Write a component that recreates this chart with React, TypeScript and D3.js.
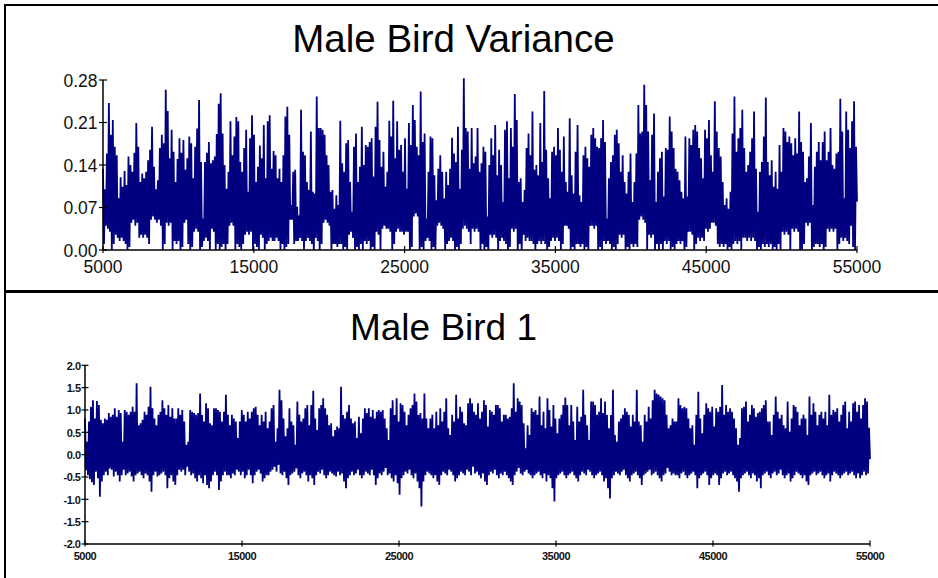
import React from "react";
import * as d3 from "d3";

// x range shared by both panels (sample number)
const sampleRange = [5000, 55000];
const timeTicks = [5000, 15000, 25000, 35000, 45000, 55000];
const varianceTicks = [0, 0.07, 0.14, 0.21, 0.28];
const birdTicks = [-2, -1.5, -1, -0.5, 0, 0.5, 1, 1.5, 2];

// Male Bird Variance: upper envelope (peaks), left to right
const varianceHighs = [
  // 5000 - 17400
  0.134, 0.10, 0.159, 0.242, 0.19, 0.214, 0.17, 0.156, 0.085, 0.12,
  0.104, 0.13, 0.107, 0.154, 0.14, 0.129, 0.16, 0.209, 0.170, 0.112,
  0.126, 0.118, 0.129, 0.148, 0.165, 0.203, 0.137, 0.10, 0.115, 0.168,
  0.190, 0.176, 0.264, 0.229, 0.151, 0.198, 0.162, 0.112, 0.15, 0.184,
  0.16, 0.181, 0.132, 0.151, 0.187, 0.176, 0.118, 0.170, 0.20, 0.247,
  0.145, 0.052, 0.145, 0.16, 0.178, 0.143, 0.148, 0.154, 0.191, 0.241,
  0.258, 0.192, 0.140, 0.101, 0.129, 0.212, 0.156, 0.187, 0.219, 0.212,
  0.145, 0.129, 0.168, 0.198, 0.096, 0.184, 0.222, 0.190, 0.112, 0.137,
  0.172, 0.151, 0.206, 0.118, 0.212, 0.222, 0.134, 0.163, 0.156, 0.118,
  0.134, 0.112, 0.156, 0.220,
  // 17400 - 30000
  0.236, 0.190, 0.074, 0.129, 0.132, 0.071, 0.057, 0.231, 0.162, 0.156,
  0.112, 0.099, 0.195, 0.096, 0.093, 0.253, 0.201, 0.201, 0.198, 0.190,
  0.156, 0.140, 0.096, 0.099, 0.068, 0.090, 0.074, 0.213, 0.143, 0.129,
  0.176, 0.181, 0.112, 0.063, 0.170, 0.192, 0.112, 0.137, 0.203, 0.140,
  0.173, 0.170, 0.178, 0.184, 0.121, 0.203, 0.244, 0.181, 0.137, 0.162,
  0.104, 0.129, 0.213, 0.187, 0.246, 0.151, 0.212, 0.165, 0.173, 0.129,
  0.184, 0.101, 0.209, 0.173, 0.239, 0.214, 0.170, 0.156, 0.261, 0.178,
  0.192, 0.052, 0.129, 0.187, 0.184, 0.123, 0.082, 0.134, 0.156, 0.129,
  0.085, 0.129, 0.107, 0.134, 0.185, 0.159, 0.145, 0.203, 0.101, 0.165,
  0.283, 0.201, 0.195, 0.134,
  // 30000 - 42600
  0.201, 0.143, 0.154, 0.201, 0.129, 0.143, 0.170, 0.162, 0.055, 0.140,
  0.184, 0.156, 0.206, 0.123, 0.165, 0.140, 0.079, 0.198, 0.212, 0.118,
  0.201, 0.170, 0.257, 0.214, 0.112, 0.118, 0.079, 0.099, 0.168, 0.192,
  0.156, 0.228, 0.132, 0.140, 0.123, 0.209, 0.145, 0.262, 0.165, 0.118,
  0.085, 0.162, 0.170, 0.156, 0.201, 0.165, 0.129, 0.187, 0.112, 0.096,
  0.217, 0.123, 0.093, 0.162, 0.206, 0.090, 0.079, 0.156, 0.170, 0.151,
  0.137, 0.190, 0.201, 0.184, 0.170, 0.168, 0.184, 0.214, 0.178, 0.052,
  0.118, 0.145, 0.156, 0.190, 0.198, 0.176, 0.129, 0.156, 0.112, 0.093,
  0.129, 0.159, 0.079, 0.112, 0.159, 0.239, 0.192, 0.195, 0.272, 0.239,
  0.195, 0.115, 0.190, 0.225, 0.079, 0.129, 0.151, 0.162,
  // 42600 - 55000
  0.088, 0.168, 0.165, 0.220, 0.195, 0.168, 0.134, 0.129, 0.115, 0.096,
  0.085, 0.187, 0.088, 0.184, 0.173, 0.198, 0.206, 0.195, 0.168, 0.151,
  0.118, 0.198, 0.184, 0.214, 0.156, 0.129, 0.245, 0.195, 0.168, 0.154,
  0.112, 0.074, 0.085, 0.068, 0.096, 0.192, 0.253, 0.162, 0.184, 0.201,
  0.231, 0.168, 0.129, 0.140, 0.162, 0.184, 0.228, 0.134, 0.063, 0.129,
  0.145, 0.187, 0.251, 0.145, 0.123, 0.148, 0.104, 0.129, 0.101, 0.173,
  0.129, 0.201, 0.195, 0.178, 0.187, 0.176, 0.156, 0.184, 0.159, 0.228,
  0.178, 0.162, 0.112, 0.118, 0.154, 0.209, 0.074, 0.137, 0.162, 0.178,
  0.148, 0.178, 0.195, 0.148, 0.162, 0.201, 0.140, 0.134, 0.159, 0.162,
  0.249, 0.195, 0.085, 0.228, 0.198, 0.168, 0.212, 0.245, 0.17,
];

// Male Bird Variance: troughs that follow each peak
const varianceLows = [
  0.01, 0.04, 0.035, 0.03, 0.00, 0.01, 0.025, 0.02, 0.015, 0.02,
  0.015, 0.01, 0.00, 0.005, 0.045, 0.05, 0.04, 0.045, 0.02, 0.025,
  0.02, 0.025, 0.02, 0.01, 0.05, 0.055, 0.05, 0.045, 0.05, 0.04,
  0.00, 0.01, 0.045, 0.04, 0.045, 0.00, 0.015, 0.01, 0.015, 0.00,
  0.005, 0.045, 0.05, 0.01, 0.00, 0.005, 0.03, 0.035, 0.03, 0.00,
  0.005, 0.015, 0.02, 0.015, 0.00, 0.035, 0.03, 0.00, 0.01, 0.00,
  0.005, 0.01, 0.00, 0.01, 0.04, 0.045, 0.04, 0.00, 0.01, 0.005,
  0.00, 0.01, 0.025, 0.03, 0.025, 0.03, 0.00, 0.01, 0.005, 0.00,
  0.025, 0.02, 0.00, 0.01, 0.015, 0.02, 0.015, 0.015, 0.02, 0.015,
  0.00, 0.01, 0.00, 0.005,
  0.01, 0.05, 0.05, 0.01, 0.015, 0.015, 0.02, 0.015, 0.00, 0.015,
  0.02, 0.015, 0.01, 0.00, 0.02, 0.015, 0.00, 0.01, 0.045, 0.05,
  0.045, 0.04, 0.00, 0.01, 0.01, 0.005, 0.01, 0.01, 0.00, 0.005,
  0.00, 0.025, 0.03, 0.02, 0.00, 0.005, 0.00, 0.01, 0.00, 0.015,
  0.01, 0.015, 0.00, 0.005, 0.00, 0.03, 0.025, 0.00, 0.035, 0.04,
  0.035, 0.035, 0.03, 0.00, 0.01, 0.03, 0.035, 0.03, 0.03, 0.025,
  0.03, 0.03, 0.00, 0.005, 0.055, 0.06, 0.055, 0.00, 0.005, 0.00,
  0.015, 0.02, 0.015, 0.00, 0.005, 0.00, 0.04, 0.045, 0.04, 0.035,
  0.00, 0.01, 0.015, 0.02, 0.015, 0.00, 0.005, 0.00, 0.01, 0.035,
  0.04, 0.035, 0.03, 0.01,
  0.035, 0.03, 0.035, 0.03, 0.00, 0.01, 0.00, 0.005, 0.00, 0.025,
  0.02, 0.025, 0.02, 0.00, 0.015, 0.02, 0.015, 0.01, 0.00, 0.005,
  0.035, 0.03, 0.035, 0.00, 0.01, 0.00, 0.025, 0.015, 0.02, 0.015,
  0.015, 0.01, 0.00, 0.01, 0.015, 0.01, 0.015, 0.01, 0.00, 0.005,
  0.015, 0.02, 0.015, 0.02, 0.015, 0.00, 0.01, 0.04, 0.04, 0.035,
  0.00, 0.005, 0.00, 0.01, 0.01, 0.005, 0.01, 0.00, 0.005, 0.00,
  0.04, 0.04, 0.035, 0.04, 0.00, 0.005, 0.00, 0.015, 0.01, 0.015,
  0.01, 0.00, 0.005, 0.00, 0.01, 0.025, 0.02, 0.025, 0.00, 0.005,
  0.00, 0.01, 0.005, 0.01, 0.005, 0.05, 0.055, 0.05, 0.045, 0.00,
  0.025, 0.02, 0.025, 0.00, 0.01, 0.00, 0.01, 0.00,
  0.015, 0.01, 0.015, 0.00, 0.005, 0.00, 0.01, 0.015, 0.01, 0.015,
  0.00, 0.005, 0.03, 0.03, 0.025, 0.00, 0.01, 0.02, 0.015, 0.02,
  0.015, 0.035, 0.03, 0.035, 0.045, 0.045, 0.04, 0.01, 0.005, 0.01,
  0.005, 0.01, 0.00, 0.005, 0.00, 0.01, 0.015, 0.01, 0.015, 0.00,
  0.02, 0.02, 0.015, 0.02, 0.015, 0.02, 0.015, 0.00, 0.005, 0.00,
  0.01, 0.005, 0.01, 0.005, 0.01, 0.00, 0.005, 0.00, 0.01, 0.00,
  0.03, 0.025, 0.03, 0.025, 0.00, 0.035, 0.03, 0.035, 0.03, 0.00,
  0.00, 0.01, 0.045, 0.04, 0.045, 0.00, 0.005, 0.01, 0.01, 0.005,
  0.01, 0.00, 0.005, 0.035, 0.03, 0.035, 0.03, 0.035, 0.00, 0.01,
  0.02, 0.015, 0.02, 0.015, 0.01, 0.04, 0.005, 0.00, 0.08,
];

// Male Bird 1: peaks, left to right
const birdHighs = [
  0.81, 0.29, 0.74, 1.07, 1.22, 0.81, 1.20, 1.11, 0.78, 0.70,
  0.81, 0.78, 0.93, 0.85, 0.89, 1.04, 0.85, 1.00, 0.93, 0.29,
  1.00, 0.96, 0.89, 0.96, 1.07, 0.96, 1.60, 0.66, 0.70, 0.78,
  0.96, 0.89, 1.07, 1.52, 1.04, 0.81, 0.66, 0.89, 0.96, 1.22,
  1.04, 0.89, 1.11, 0.85, 1.04, 0.81, 0.81, 1.04, 0.89, 1.00,
  0.74, 0.22, 0.29, 1.00, 0.96, 0.93, 0.89, 0.93, 1.37, 0.89,
  0.74, 1.15, 1.04, 0.70, 0.66, 1.04, 1.04, 1.00, 0.96, 0.74,
  0.96, 1.34, 0.89, 0.66, 0.89, 0.81, 0.74, 0.37, 0.74, 1.00,
  0.89, 0.74, 0.96, 0.81, 0.96, 1.04, 1.07, 0.89, 0.66, 0.89,
  0.74, 0.96, 0.59, 0.74, 1.04, 1.11, 0.29, 0.59, 1.45,
  1.22, 0.81, 0.41, 0.59, 1.04, 0.74, 0.66, 0.22, 1.19, 0.89,
  0.74, 0.81, 1.04, 1.11, 0.66, 1.11, 1.43, 0.81, 0.55, 1.04,
  1.11, 1.26, 1.04, 0.89, 0.66, 0.70, 0.41, 0.55, 0.63, 0.59,
  1.52, 0.89, 0.81, 0.96, 1.11, 0.81, 0.70, 0.74, 0.37, 0.85,
  0.48, 0.81, 1.04, 0.93, 1.04, 0.85, 1.00, 0.81, 0.96, 1.00,
  0.96, 1.00, 0.81, 0.59, 0.33, 1.04, 1.22, 0.89, 1.26, 0.74,
  1.15, 1.11, 0.96, 0.66, 0.89, 1.04, 1.11, 1.37, 1.19, 0.89,
  0.93, 0.81, 1.37, 0.81, 0.59, 0.81, 0.89, 0.59, 0.96, 0.66,
  1.04, 0.74, 0.96, 1.26, 0.59, 0.44, 0.89, 0.74, 1.34, 0.81,
  1.07, 0.96, 0.70, 0.66, 1.15, 1.26, 1.15, 0.96, 0.89,
  1.15, 0.81, 0.96, 1.22, 1.11, 0.63, 1.00, 0.96, 0.89, 1.11,
  1.11, 1.04, 0.74, 0.89, 0.89, 0.81, 0.85, 1.04, 1.60, 0.96,
  1.26, 1.19, 1.11, 0.70, 0.14, 0.66, 0.44, 1.04, 0.96, 1.00,
  0.89, 1.30, 0.66, 0.96, 0.59, 1.26, 1.00, 0.63, 1.11, 0.81,
  0.48, 0.81, 0.89, 1.11, 1.28, 1.11, 0.66, 1.11, 0.74, 0.33,
  1.07, 0.74, 0.85, 1.45, 0.89, 0.66, 0.33, 1.19, 1.19, 1.11,
  0.89, 0.96, 1.26, 0.93, 1.19, 0.89, 0.59, 0.89, 1.45, 0.44,
  0.29, 0.74, 0.81, 0.89, 1.04, 0.96, 0.89, 0.63, 0.89, 0.74,
  1.45, 0.74, 0.66, 0.29, 0.89, 0.74, 1.07, 0.81, 1.22, 1.45,
  1.37, 1.34, 1.30, 1.26, 1.22, 0.89, 0.59, 0.66, 0.81, 0.74,
  0.74, 1.26, 1.11, 1.04, 1.07, 1.04, 0.81, 0.59, 0.66, 0.22,
  0.89, 1.41, 0.81, 0.48, 0.89, 1.15, 1.04, 0.96, 1.07, 0.63,
  1.04, 0.96, 1.07, 1.56, 0.89, 1.11, 0.96, 1.04, 0.96, 0.81,
  0.59, 0.22, 0.37, 1.04, 1.07, 1.19, 0.74, 0.89, 1.11, 1.04,
  0.85, 0.93, 0.96, 1.04, 1.11, 1.22, 0.74, 0.74, 0.44, 0.89,
  1.30, 0.96, 0.81, 0.89, 0.66, 0.59, 1.19, 0.51, 0.81, 1.11,
  1.07, 0.96, 0.66, 0.81, 0.89, 0.81, 0.44, 1.30, 0.89, 1.15,
  0.96, 0.66, 0.89, 0.96, 0.81, 0.96, 0.66, 1.34, 0.89, 1.00,
  0.96, 1.04, 0.74, 0.89, 1.11, 1.19, 0.59, 0.96, 0.74, 1.15,
  1.19, 0.96, 1.11, 0.81, 1.11, 1.26, 1.19, 0.60,
];

// Male Bird 1: troughs that follow each peak
const birdLows = [
  -0.35, -0.46, -0.55, -0.62, -0.68, -0.38, -0.53, -0.94, -0.60, -0.46,
  -0.38, -0.46, -0.31, -0.34, -0.49, -0.38, -0.46, -0.60, -0.46, -0.34,
  -0.46, -0.42, -0.38, -0.49, -0.60, -0.46, -0.42, -0.38, -0.46, -0.53,
  -0.42, -0.46, -0.60, -0.83, -0.46, -0.38, -0.49, -0.46, -0.42, -0.38,
  -0.46, -0.75, -0.53, -0.46, -0.60, -0.68, -0.46, -0.34, -0.38, -0.34,
  -0.46, -0.27, -0.38, -0.46, -0.42, -0.53, -0.60, -0.46, -0.53, -0.64,
  -0.46, -0.68, -0.75, -0.60, -0.46, -0.38, -0.46, -0.79, -0.60, -0.46,
  -0.38, -0.46, -0.46, -0.53, -0.42, -0.46, -0.34, -0.38, -0.46, -0.38,
  -0.53, -0.46, -0.34, -0.46, -0.64, -0.46, -0.38, -0.34, -0.42, -0.60,
  -0.53, -0.46, -0.46, -0.38, -0.34, -0.27, -0.38, -0.23, -0.42,
  -0.46, -0.38, -0.53, -0.68, -0.46, -0.42, -0.38, -0.31, -0.46, -0.53,
  -0.42, -0.38, -0.46, -0.60, -0.46, -0.53, -0.68, -0.46, -0.38, -0.42,
  -0.34, -0.46, -0.53, -0.46, -0.38, -0.42, -0.46, -0.49, -0.38, -0.46,
  -0.42, -0.60, -0.75, -0.53, -0.46, -0.38, -0.46, -0.42, -0.34, -0.46,
  -0.53, -0.46, -0.38, -0.42, -0.46, -0.34, -0.46, -0.68, -0.53, -0.42,
  -0.46, -0.38, -0.30, -0.46, -0.42, -0.53, -0.60, -0.46, -0.64, -0.90,
  -0.53, -0.46, -0.38, -0.42, -0.34, -0.46, -0.53, -0.42, -0.60, -0.75,
  -1.16, -0.60, -0.46, -0.38, -0.42, -0.46, -0.53, -0.46, -0.60, -0.68,
  -0.46, -0.38, -0.42, -0.46, -0.34, -0.38, -0.46, -0.60, -0.53, -0.46,
  -0.38, -0.42, -0.46, -0.34, -0.38, -0.46, -0.27, -0.42, -0.38,
  -0.46, -0.53, -0.42, -0.60, -0.68, -0.46, -0.38, -0.42, -0.34, -0.46,
  -0.53, -0.42, -0.46, -0.38, -0.46, -0.53, -0.60, -0.68, -0.46, -0.38,
  -0.30, -0.42, -0.46, -0.38, -0.34, -0.42, -0.46, -0.53, -0.46, -0.42,
  -0.38, -0.46, -0.53, -0.42, -0.60, -0.46, -0.53, -0.75, -1.05, -0.53,
  -0.46, -0.42, -0.38, -0.46, -0.53, -0.46, -0.42, -0.38, -0.46, -0.53,
  -0.60, -0.46, -0.38, -0.42, -0.46, -0.34, -0.38, -0.46, -0.53, -0.46,
  -0.42, -0.38, -0.46, -0.60, -0.53, -0.75, -0.98, -0.53, -0.46, -0.38,
  -0.42, -0.46, -0.38, -0.34, -0.46, -0.53, -0.60, -0.46, -0.42, -0.38,
  -0.46, -0.53, -0.68, -0.46, -0.42, -0.38, -0.34, -0.46, -0.42, -0.38,
  -0.46, -0.53, -0.60, -0.46, -0.42, -0.30, -0.38, -0.46, -0.42, -0.46,
  -0.46, -0.53, -0.42, -0.38, -0.46, -0.53, -0.46, -0.42, -0.38, -0.46,
  -0.75, -0.53, -0.46, -0.42, -0.38, -0.46, -0.68, -0.53, -0.46, -0.42,
  -0.46, -0.68, -0.53, -0.42, -0.38, -0.46, -0.42, -0.38, -0.46, -0.53,
  -0.60, -0.83, -0.53, -0.46, -0.42, -0.38, -0.46, -0.53, -0.42, -0.46,
  -0.60, -0.53, -0.75, -0.46, -0.42, -0.38, -0.46, -0.53, -0.42, -0.38,
  -0.46, -0.42, -0.34, -0.46, -0.53, -0.46, -0.42, -0.60, -0.53, -0.46,
  -0.38, -0.42, -0.46, -0.53, -0.46, -0.60, -0.68, -0.46, -0.42, -0.38,
  -0.46, -0.42, -0.38, -0.46, -0.53, -0.46, -0.42, -0.60, -0.46, -0.38,
  -0.42, -0.46, -0.53, -0.46, -0.42, -0.38, -0.46, -0.42, -0.38, -0.46,
  -0.53, -0.42, -0.53, -0.46, -0.38, -0.46, -0.42, -0.10,
];

// peak, trough, peak, trough ... in reading order
const interleave = (highs: number[], lows: number[]) => {
  const out: number[] = [];
  highs.forEach((h, i) => {
    out.push(h);
    if (i < lows.length) out.push(lows[i]);
  });
  return out;
};

const varianceSeries = interleave(varianceHighs, varianceLows);
const birdSeries = interleave(birdHighs, birdLows);

const NAVY = "#000080";
const FONT = "'Liberation Sans', Arial, sans-serif";

type PanelProps = {
  title: string;
  titleX: number;
  titleY: number;
  titleSize: number;
  series: number[];
  x: d3.ScaleLinear<number, number>;
  y: d3.ScaleLinear<number, number>;
  yTicks: number[];
  yFormat: (v: number) => string;
  labelSize: number;
  labelWeight: number | string;
  labelSpacing: number;
  yLabelGap: number;
  yLabelDy: number;
  xLabelY: number;
  tick: number;
};

const Panel = (p: PanelProps) => {
  const n = p.series.length;
  const step = (sampleRange[1] - sampleRange[0]) / (n - 1);
  const line = d3
    .line<number>()
    .x((_, i) => p.x(sampleRange[0] + i * step))
    .y((d) => p.y(d));

  const [x0, x1] = p.x.range();
  const [yb, yt] = p.y.range();

  return (
    <g>
      <text
        x={p.titleX}
        y={p.titleY}
        textAnchor="middle"
        fontFamily={FONT}
        fontSize={p.titleSize}
        fill="#000"
      >
        {p.title}
      </text>

      <path d={line(p.series) || ""} fill="none" stroke={NAVY} strokeWidth={1.8} />

      {/* axes */}
      <line x1={x0} x2={x0} y1={yt} y2={yb} stroke="#000" strokeWidth={1.5} />
      <line x1={x0} x2={x1} y1={yb} y2={yb} stroke="#000" strokeWidth={1.5} />

      {p.yTicks.map((t) => (
        <g key={"y" + t}>
          <line
            x1={x0 - p.tick}
            x2={x0 + p.tick}
            y1={p.y(t)}
            y2={p.y(t)}
            stroke="#000"
            strokeWidth={1.2}
          />
          <text
            x={x0 - p.yLabelGap}
            y={p.y(t) + p.yLabelDy}
            textAnchor="end"
            fontFamily={FONT}
            fontSize={p.labelSize}
            fontWeight={p.labelWeight}
            letterSpacing={p.labelSpacing}
            fill="#111"
          >
            {p.yFormat(t)}
          </text>
        </g>
      ))}

      {timeTicks.map((t) => (
        <g key={"x" + t}>
          <line
            x1={p.x(t)}
            x2={p.x(t)}
            y1={yb - p.tick}
            y2={yb + p.tick - 1}
            stroke="#000"
            strokeWidth={1.2}
          />
          <text
            x={p.x(t)}
            y={p.xLabelY}
            textAnchor="middle"
            fontFamily={FONT}
            fontSize={p.labelSize}
            fontWeight={p.labelWeight}
            letterSpacing={p.labelSpacing}
            fill="#111"
          >
            {t}
          </text>
        </g>
      ))}
    </g>
  );
};

export default function App() {
  const xTop = d3.scaleLinear().domain(sampleRange).range([103, 857]);
  const yTop = d3.scaleLinear().domain([0, 0.28]).range([250, 80]);
  const xBot = d3.scaleLinear().domain(sampleRange).range([85, 870]);
  const yBot = d3.scaleLinear().domain([-2, 2]).range([544, 365.3]);

  return (
    <svg
      width={938}
      height={578}
      style={{ position: "absolute", left: 0, top: 0, background: "#fff" }}
    >
      <rect x={0} y={0} width={938} height={578} fill="#fff" />
      {/* panel frames */}
      <rect x={5} y={5} width={945} height={286} fill="none" stroke="#000" strokeWidth={2} />
      <rect x={5} y={292} width={945} height={300} fill="none" stroke="#000" strokeWidth={2} />

      <Panel
        title="Male Bird Variance"
        titleX={453.5}
        titleY={52}
        titleSize={38.5}
        series={varianceSeries}
        x={xTop}
        y={yTop}
        yTicks={varianceTicks}
        yFormat={(v) => v.toFixed(2)}
        labelSize={17.5}
        labelWeight="normal"
        labelSpacing={0}
        yLabelGap={5.5}
        yLabelDy={6.6}
        xLabelY={273}
        tick={4}
      />

      <Panel
        title="Male Bird 1"
        titleX={443.5}
        titleY={340}
        titleSize={37}
        series={birdSeries}
        x={xBot}
        y={yBot}
        yTicks={birdTicks}
        yFormat={(v) => v.toFixed(1)}
        labelSize={11}
        labelWeight="bold"
        labelSpacing={-0.5}
        yLabelGap={4.5}
        yLabelDy={4.2}
        xLabelY={560}
        tick={3.5}
      />
    </svg>
  );
}
